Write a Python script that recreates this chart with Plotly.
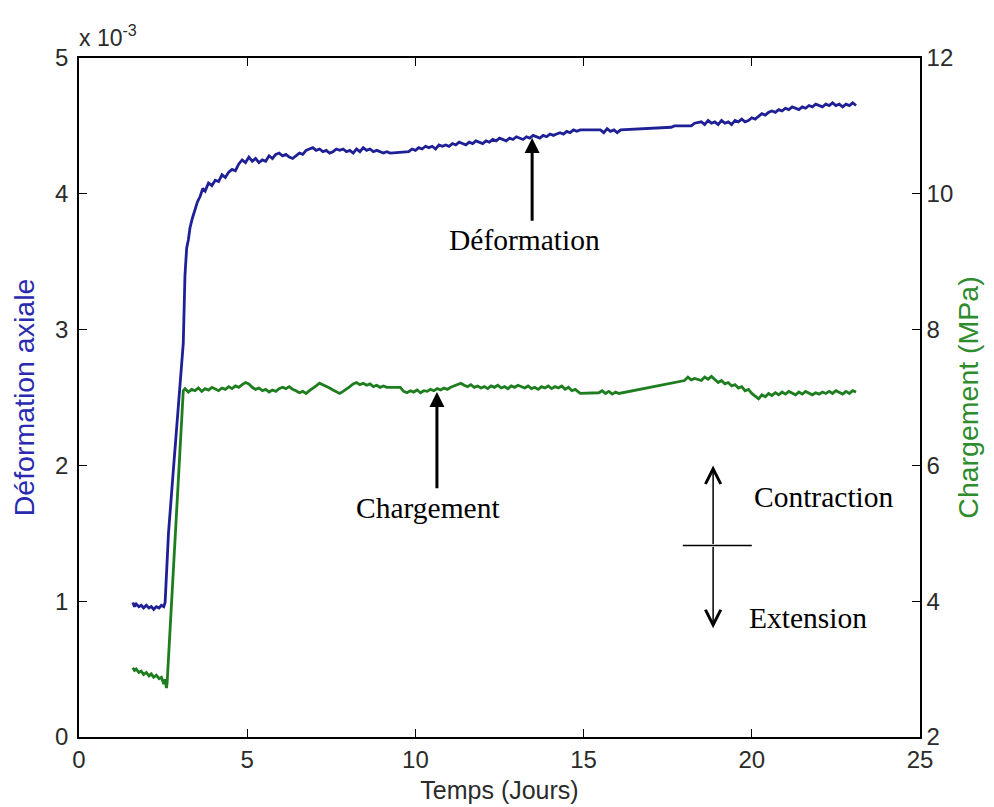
import plotly.graph_objects as go

# ---------------- data ----------------
# Déformation axiale, in units of 1e-3
t_def = [1.60, 1.65, 1.70, 1.78, 1.85, 1.92, 2.00, 2.08, 2.15, 2.22, 2.30, 2.38, 2.45, 2.52, 2.56,
         2.60, 2.66, 2.80, 2.95, 3.10, 3.15, 3.20, 3.25, 3.30, 3.37, 3.45, 3.52, 3.60, 3.68, 3.75,
         3.85, 3.95, 4.05, 4.15, 4.25, 4.35, 4.45, 4.55, 4.65, 4.75, 4.85, 4.95, 5.05, 5.15, 5.25,
         5.35, 5.45, 5.55, 5.65, 5.75, 5.85, 5.95, 6.05, 6.15, 6.25, 6.35, 6.45, 6.55, 6.65, 6.75,
         6.85, 6.95, 7.05, 7.15, 7.25, 7.35, 7.45, 7.55, 7.65, 7.75, 7.85, 7.95, 8.05, 8.15, 8.25,
         8.35, 8.45, 8.55, 8.65, 8.75, 8.85, 8.95, 9.05, 9.15, 9.25,
         9.80, 9.90, 10.0, 10.1, 10.2, 10.3, 10.4, 10.5, 10.6, 10.7, 10.8, 10.9, 11.0, 11.1, 11.2,
         11.3, 11.4, 11.5, 11.6, 11.7, 11.8, 11.9, 12.0, 12.1, 12.2, 12.3, 12.4, 12.5, 12.6, 12.7,
         12.8, 12.9, 13.0, 13.1, 13.2, 13.3, 13.4, 13.5, 13.6, 13.7, 13.8, 13.9, 14.0, 14.1, 14.2,
         14.3, 14.4, 14.5, 14.6, 14.7, 14.8, 14.9,
         15.5, 15.6, 15.7, 15.8, 15.9, 16.0, 16.1,
         16.7, 17.0, 17.6, 17.7, 18.2, 18.3,
         18.5, 18.6, 18.7, 18.8, 18.9, 19.0, 19.1, 19.2, 19.3, 19.4, 19.5, 19.6, 19.7, 19.8, 19.9,
         20.0, 20.1, 20.2, 20.3, 20.4, 20.5, 20.6, 20.7, 20.8, 20.9, 21.0, 21.1, 21.2, 21.3, 21.4,
         21.5, 21.6, 21.7, 21.8, 21.9, 22.0, 22.1, 22.2, 22.3, 22.4, 22.5, 22.6, 22.7, 22.8, 22.9,
         23.0, 23.1]
deformation_e3 = [0.99, 0.96, 0.98, 0.96, 0.97, 0.95, 0.97, 0.95, 0.96, 0.94, 0.96, 0.95, 0.97, 0.96, 0.99,
                  1.25, 1.50, 1.95, 2.45, 2.90, 3.40, 3.60, 3.66, 3.75, 3.82, 3.88, 3.94, 3.98, 4.04, 4.02,
                  4.08, 4.06, 4.10, 4.09, 4.14, 4.12, 4.16, 4.18, 4.17, 4.22, 4.25, 4.23, 4.27, 4.24, 4.26,
                  4.23, 4.25, 4.24, 4.28, 4.26, 4.29, 4.30, 4.28, 4.29, 4.27, 4.26, 4.28, 4.30, 4.29, 4.32,
                  4.33, 4.34, 4.32, 4.33, 4.31, 4.32, 4.30, 4.31, 4.33, 4.32, 4.33, 4.31, 4.32, 4.30, 4.33,
                  4.31, 4.34, 4.32, 4.33, 4.31, 4.32, 4.31, 4.30, 4.31, 4.30,
                  4.31, 4.33, 4.32, 4.34, 4.33, 4.35, 4.34, 4.35, 4.33, 4.36, 4.35, 4.36, 4.35, 4.37, 4.36,
                  4.38, 4.37, 4.36, 4.38, 4.37, 4.39, 4.38, 4.37, 4.39, 4.38, 4.40, 4.39, 4.41, 4.40, 4.39,
                  4.41, 4.40, 4.42, 4.41, 4.40, 4.42, 4.41, 4.43, 4.42, 4.41, 4.43, 4.42, 4.44, 4.43, 4.44,
                  4.45, 4.44, 4.46, 4.45, 4.47, 4.46, 4.47,
                  4.47, 4.45, 4.48, 4.46, 4.47, 4.45, 4.47,
                  4.48, 4.48, 4.49, 4.50, 4.50, 4.52,
                  4.53, 4.51, 4.54, 4.52, 4.53, 4.51, 4.54, 4.52, 4.53, 4.51, 4.54, 4.53, 4.55, 4.53, 4.54,
                  4.56, 4.55, 4.57, 4.59, 4.58, 4.60, 4.61, 4.60, 4.62, 4.61, 4.63, 4.62, 4.64, 4.63, 4.62,
                  4.64, 4.63, 4.65, 4.64, 4.66, 4.65, 4.64, 4.66, 4.65, 4.67, 4.65, 4.66, 4.64, 4.66, 4.65,
                  4.67, 4.65]

# Chargement, MPa
t_load = [1.60, 1.65, 1.70, 1.78, 1.85, 1.92, 2.00, 2.08, 2.15, 2.22, 2.30, 2.38, 2.45, 2.52, 2.56, 2.60,
          2.62, 3.10, 3.15, 3.25, 3.35, 3.45, 3.55, 3.65, 3.75, 3.85, 3.95, 4.05, 4.15, 4.25, 4.35,
          4.45, 4.55, 4.65, 4.75, 4.85, 4.95, 5.05, 5.15, 5.25, 5.35, 5.45, 5.55, 5.65, 5.75, 5.85,
          5.95, 6.05, 6.15, 6.25, 6.35, 6.45, 6.55, 6.65, 6.75, 6.85, 6.95, 7.05, 7.15, 7.25, 7.35,
          7.45, 7.55, 7.65, 7.75, 7.85, 7.95, 8.05, 8.15, 8.25, 8.35, 8.45, 8.55, 8.65, 8.75, 8.85,
          8.95, 9.05, 9.15,
          9.55, 9.65, 9.75, 9.85, 9.95, 10.05, 10.15, 10.25, 10.35, 10.45, 10.55, 10.65, 10.75, 10.85,
          10.95, 11.05, 11.15, 11.25, 11.35, 11.45, 11.55, 11.65, 11.75, 11.85, 11.95, 12.05, 12.15,
          12.25, 12.35, 12.45, 12.55, 12.65, 12.75, 12.85, 12.95, 13.05, 13.15, 13.25, 13.35, 13.45,
          13.55, 13.65, 13.75, 13.85, 13.95, 14.05, 14.15, 14.25, 14.35, 14.45, 14.55, 14.65, 14.75,
          14.85, 14.90,
          15.45, 15.55, 15.65, 15.75, 15.85, 15.95, 16.05, 16.15,
          16.8, 17.5, 18.0, 18.1, 18.2, 18.3, 18.5, 18.6, 18.7, 18.8, 18.9, 19.0, 19.1, 19.2, 19.3,
          19.4, 19.5, 19.6, 19.7, 19.8, 19.9, 20.0, 20.1, 20.2, 20.3, 20.4, 20.5, 20.6, 20.7, 20.8,
          20.9, 21.0, 21.1, 21.2, 21.3, 21.4, 21.5, 21.6, 21.7, 21.8, 21.9, 22.0, 22.1, 22.2, 22.3,
          22.4, 22.5, 22.6, 22.7, 22.8, 22.9, 23.0, 23.1]
load_mpa = [3.02, 2.98, 3.00, 2.95, 2.97, 2.92, 2.95, 2.90, 2.93, 2.88, 2.91, 2.86, 2.88, 2.78, 2.85, 2.72,
            2.80, 7.10, 7.13, 7.08, 7.12, 7.10, 7.14, 7.09, 7.13, 7.11, 7.15, 7.12, 7.10, 7.14, 7.12,
            7.16, 7.13, 7.17, 7.15, 7.19, 7.22, 7.20, 7.15, 7.12, 7.14, 7.10, 7.12, 7.08, 7.11, 7.09,
            7.13, 7.15, 7.13, 7.16, 7.12, 7.10, 7.07, 7.09, 7.06, 7.10, 7.13, 7.17, 7.21, 7.19, 7.16,
            7.14, 7.11, 7.08, 7.06, 7.09, 7.12, 7.16, 7.20, 7.22, 7.19, 7.21, 7.18, 7.20, 7.16, 7.18,
            7.15, 7.17, 7.15,
            7.15, 7.09, 7.07, 7.10, 7.08, 7.11, 7.07, 7.10, 7.09, 7.12, 7.10, 7.13, 7.11, 7.14,
            7.12, 7.15, 7.17, 7.19, 7.21, 7.18, 7.16, 7.19, 7.15, 7.17, 7.14, 7.16, 7.13,
            7.17, 7.15, 7.18, 7.14, 7.16, 7.13, 7.17, 7.15, 7.18, 7.16, 7.14, 7.17, 7.13,
            7.15, 7.12, 7.16, 7.14, 7.17, 7.13, 7.16, 7.14, 7.17, 7.12, 7.15, 7.10, 7.12,
            7.07, 7.06,
            7.07, 7.10, 7.06, 7.09, 7.05, 7.08, 7.06, 7.07,
            7.13, 7.20, 7.25, 7.30, 7.26, 7.28, 7.25, 7.30, 7.27, 7.31, 7.26, 7.22, 7.25, 7.20, 7.22,
            7.17, 7.19, 7.14, 7.16, 7.10, 7.12, 7.06, 7.02, 6.98, 7.04, 7.01, 7.06, 7.03, 7.07, 7.04,
            7.08, 7.05, 7.09, 7.06, 7.04, 7.08, 7.05, 7.09, 7.06, 7.04, 7.07, 7.05, 7.08, 7.06, 7.09,
            7.06, 7.10, 7.07, 7.05, 7.09, 7.06, 7.10, 7.08]

x_ticks = [0, 5, 10, 15, 20, 25]
y_left_ticks = [0, 1, 2, 3, 4, 5]
y_right_ticks = [2, 4, 6, 8, 10, 12]

BLUE = "#1f1f96"
GREEN = "#1e7d1e"
SANS = "Liberation Sans, Arial, sans-serif"
SERIF = "Liberation Serif, Times New Roman, serif"
ANN_SIZE = 29.5

fig = go.Figure()
fig.add_trace(go.Scatter(x=t_def, y=deformation_e3, mode="lines",
                         line=dict(color=BLUE, width=2.8), yaxis="y", showlegend=False))
fig.add_trace(go.Scatter(x=t_load, y=load_mpa, mode="lines",
                         line=dict(color=GREEN, width=2.8), yaxis="y2", showlegend=False))

tickfont = dict(family=SANS, size=24, color="#2b2b2b")
# page body has an 8px margin: figure is sized/offset to put the plot box at the reference place
fig.update_layout(
    width=986, height=799,
    margin=dict(l=71, r=74, t=50, b=70),
    paper_bgcolor="white", plot_bgcolor="white",
    xaxis=dict(range=[0, 25], tickvals=x_ticks, ticks="inside", ticklen=8, tickcolor="black",
               showline=True, linecolor="black", linewidth=1.5, mirror="ticks",
               showgrid=False, zeroline=False, tickfont=tickfont, automargin=False,
               title=dict(text="Temps (Jours)", font=dict(family=SANS, size=25, color="#2b2b2b"),
                          standoff=10)),
    yaxis=dict(range=[0, 5], tickvals=y_left_ticks, ticks="inside", ticklen=8, tickcolor="black",
               showline=True, linecolor="black", linewidth=1.5, showgrid=False, zeroline=False,
               tickfont=tickfont, ticklabelstandoff=4, automargin=False,
               title=dict(text="Déformation axiale", font=dict(family=SANS, size=28.5, color="#2a2ab0"),
                          standoff=25)),
    yaxis2=dict(range=[2, 12], tickvals=y_right_ticks, ticks="inside", ticklen=8, tickcolor="black",
                overlaying="y", side="right", showline=True, linecolor="black", linewidth=1.5,
                showgrid=False, zeroline=False, tickfont=tickfont, automargin=False,
                title=dict(text="Chargement (MPa)", font=dict(family=SANS, size=28.5, color="#2e8b2e"),
                           standoff=6)),
)

# exponent label
fig.add_annotation(xref="paper", yref="paper", x=0, y=1, xanchor="left", yanchor="bottom",
                   yshift=5, xshift=-2, showarrow=False,
                   text="x 10<sup>-3</sup>", font=dict(family=SANS, size=23, color="#2b2b2b"))

# Déformation label + arrow
fig.add_annotation(x=13.47, y=4.41, ax=13.47, ay=3.79, xref="x", yref="y", axref="x", ayref="y",
                   showarrow=True, arrowhead=2, arrowsize=1, arrowwidth=3, arrowcolor="black", text="")
fig.add_annotation(x=13.23, y=3.66, xref="x", yref="y", showarrow=False, text="Déformation",
                   font=dict(family=SERIF, size=ANN_SIZE, color="black"))

# Chargement label + arrow
fig.add_annotation(x=10.64, y=7.08, ax=10.64, ay=5.64, xref="x", yref="y2", axref="x", ayref="y2",
                   showarrow=True, arrowhead=2, arrowsize=1, arrowwidth=3, arrowcolor="black", text="")
fig.add_annotation(x=10.37, y=5.37, xref="x", yref="y2", showarrow=False, text="Chargement",
                   font=dict(family=SERIF, size=ANN_SIZE, color="black"))

# Contraction / Extension symbol
fig.add_annotation(x=18.85, y=2.00, ax=18.85, ay=1.41, xref="x", yref="y", axref="x", ayref="y",
                   showarrow=True, arrowhead=5, arrowsize=2, arrowwidth=1.5, arrowcolor="black", text="")
fig.add_annotation(x=18.85, y=0.80, ax=18.85, ay=1.41, xref="x", yref="y", axref="x", ayref="y",
                   showarrow=True, arrowhead=5, arrowsize=2, arrowwidth=1.5, arrowcolor="black", text="")
fig.add_shape(type="line", x0=17.95, x1=20.0, y0=1.41, y1=1.41, xref="x", yref="y",
              line=dict(color="black", width=1.5))
fig.add_annotation(x=22.15, y=1.77, xref="x", yref="y", showarrow=False, text="Contraction",
                   font=dict(family=SERIF, size=ANN_SIZE, color="black"))
fig.add_annotation(x=21.67, y=0.88, xref="x", yref="y", showarrow=False, text="Extension",
                   font=dict(family=SERIF, size=ANN_SIZE, color="black"))

fig.write_html("out.html")
